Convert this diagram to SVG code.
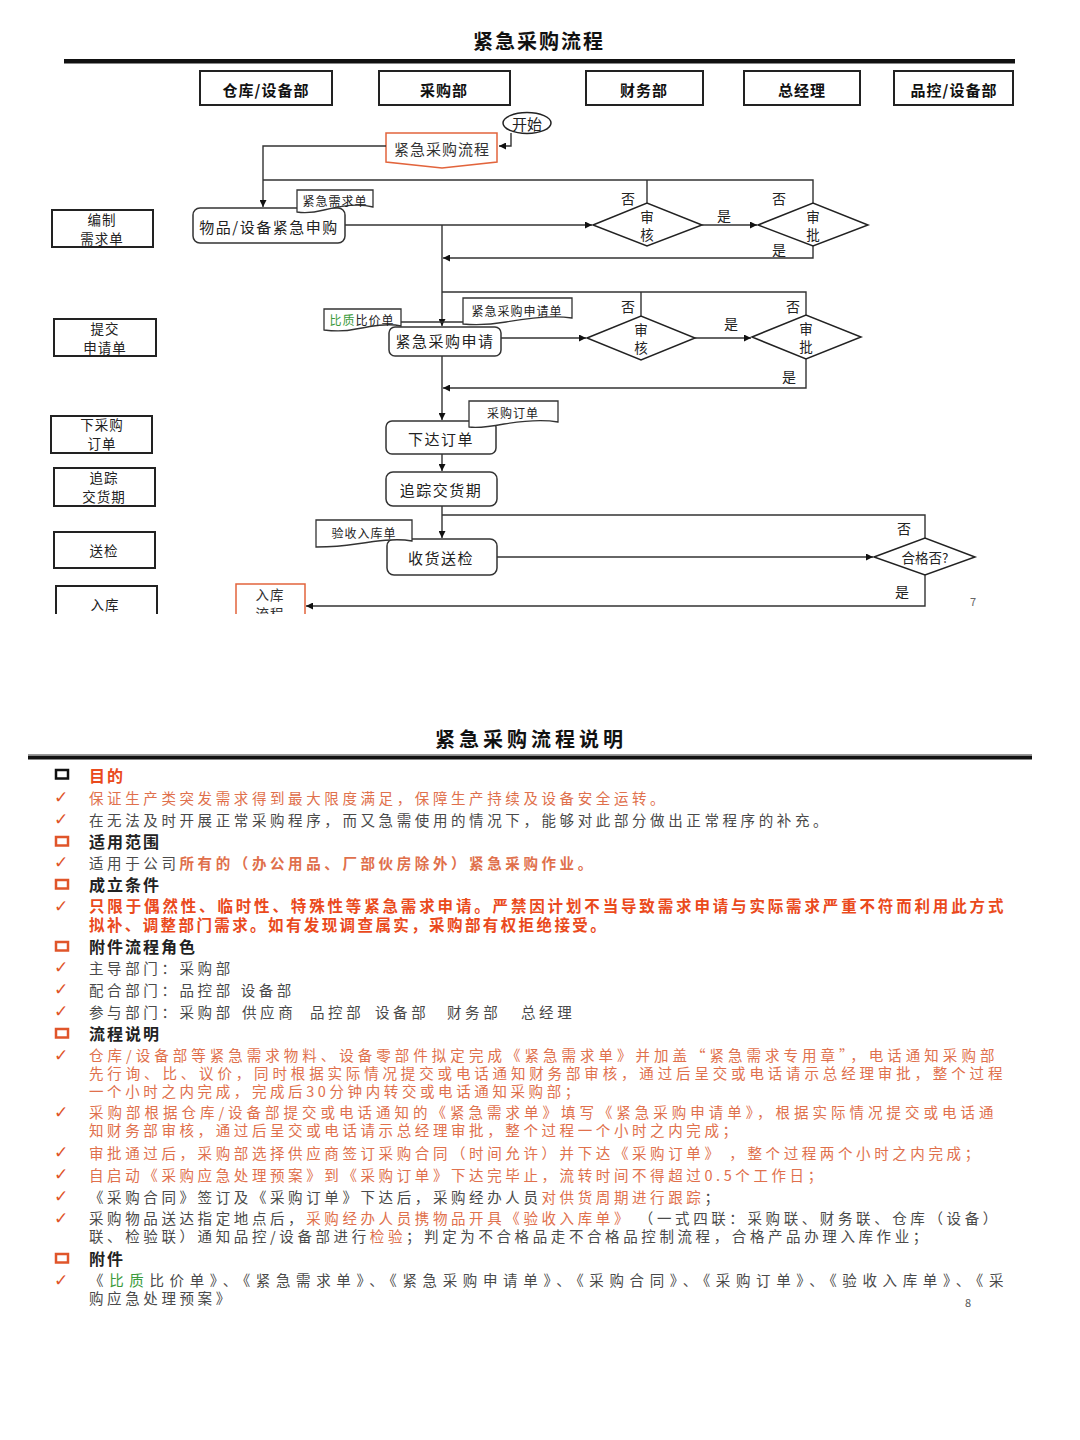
<svg xmlns="http://www.w3.org/2000/svg" width="1080" height="1440" viewBox="0 0 1080 1440">
<defs>
<marker id="ar" viewBox="0 0 10 10" refX="10" refY="5" markerWidth="7" markerHeight="7" markerUnits="userSpaceOnUse" orient="auto"><path d="M0,0 L10,5 L0,10 Z" fill="#111"/></marker>
<clipPath id="slide1"><rect x="0" y="0" width="1080" height="614"/></clipPath>
</defs>
<style>
text{font-family:"Noto Sans CJK SC","Noto Sans",sans-serif;dominant-baseline:central}
.title{font-size:20px;font-weight:bold;fill:#111;letter-spacing:2px}
.hdr rect{fill:#fff;stroke:#222;stroke-width:2}
.hdr text{font-size:15px;font-weight:bold;fill:#111;text-anchor:middle;letter-spacing:1px}
.lbox rect{fill:#fff;stroke:#222;stroke-width:2}
.lbox text{font-size:13.5px;fill:#222;text-anchor:middle;letter-spacing:1px}
.proc rect{fill:#fff;stroke:#333;stroke-width:1.5}
.proc text{font-size:15px;fill:#222;text-anchor:middle;letter-spacing:1.5px}
.doc path{fill:#fff;stroke:#333;stroke-width:1.3}
.doc text{font-size:12px;fill:#222;text-anchor:middle;letter-spacing:1px}
.dia polygon{fill:#fff;stroke:#222;stroke-width:1.5}
.dia text{font-size:13.5px;fill:#222;text-anchor:middle}
.off path{fill:#fff;stroke:#e2643c;stroke-width:1.5}
.off text{font-size:15px;fill:#333;text-anchor:middle;letter-spacing:1px}
.lab{font-size:14px;fill:#222;text-anchor:middle}
#connectors path{fill:none;stroke:#333;stroke-width:1.4}
.b{font-size:14.5px;letter-spacing:3.6px;fill:#4a4a4a}
.o{fill:#e0704c}
.r{fill:#ea4a1c;font-weight:bold}
.g{fill:#3a9a3a}
.h{font-size:16px;font-weight:bold;fill:#222;letter-spacing:2px}
.ck{font-family:"DejaVu Sans",sans-serif;font-size:17px;font-weight:bold;fill:#e0552a}
.sq{fill:none;stroke:#e0552a;stroke-width:2.5}
</style>
<rect width="1080" height="1440" fill="#fff"/>

<!-- Slide 1 -->
<text class="title" x="539" y="40" text-anchor="middle">紧急采购流程</text>
<rect x="64" y="59" width="951" height="4.5" fill="#111"/>

<g id="hdr-warehouse" class="hdr"><rect x="200" y="71" width="132" height="34"/><text x="266" y="89">仓库/设备部</text></g>
<g id="hdr-purchase" class="hdr"><rect x="379" y="71" width="131" height="34"/><text x="444" y="89">采购部</text></g>
<g id="hdr-finance" class="hdr"><rect x="586" y="71" width="117" height="34"/><text x="644" y="89">财务部</text></g>
<g id="hdr-gm" class="hdr"><rect x="744" y="71" width="116" height="34"/><text x="802" y="89">总经理</text></g>
<g id="hdr-qc" class="hdr"><rect x="894" y="71" width="119" height="34"/><text x="954" y="89">品控/设备部</text></g>

<g id="l-compile" class="lbox"><rect x="52" y="210" width="101" height="37"/><text x="102" y="219">编制</text><text x="102" y="238">需求单</text></g>
<g id="l-submit" class="lbox"><rect x="54" y="319" width="102" height="37" stroke-width="2.5"/><text x="105" y="328">提交</text><text x="105" y="347">申请单</text></g>
<g id="l-order" class="lbox"><rect x="51" y="416" width="101" height="37"/><text x="102" y="424">下采购</text><text x="102" y="443">订单</text></g>
<g id="l-track" class="lbox"><rect x="54" y="468" width="101" height="38"/><text x="104" y="477">追踪</text><text x="104" y="496">交货期</text></g>
<g id="l-inspect" class="lbox"><rect x="54" y="532" width="101" height="36"/><text x="104" y="550">送检</text></g>
<g id="l-store" class="lbox" clip-path="url(#slide1)"><rect x="56" y="586" width="101" height="40"/><text x="105" y="604">入库</text></g>

<g id="start"><ellipse cx="527" cy="123" rx="24" ry="10.5" fill="#fff" stroke="#222" stroke-width="1.5"/><text x="527" y="123" font-size="15" text-anchor="middle" fill="#222">开始</text></g>
<g id="n-flow" class="off"><path d="M386,133 H497 V162 L442,168 L386,162 Z"/><text x="442" y="148">紧急采购流程</text></g>

<g id="n-request" class="proc"><rect x="193" y="208" width="152" height="35" rx="7"/><text x="269" y="226">物品/设备紧急申购</text></g>
<g id="d-demand" class="doc"><path d="M297,190 H373 V207 C358,203 340,206 324,210 C312,213 304,213 297,212 Z"/><text x="335" y="200">紧急需求单</text></g>
<g id="dia-review1" class="dia"><polygon points="593,225 647,203 702,225 647,246"/><text x="647" y="216">审</text><text x="647" y="234">核</text></g>
<g id="dia-approve1" class="dia"><polygon points="758,225 813,203 868,225 813,246"/><text x="813" y="216">审</text><text x="813" y="234">批</text></g>

<g id="n-apply" class="proc"><rect x="389" y="327" width="112" height="29" rx="6"/><text x="445" y="340">紧急采购申请</text></g>
<g id="d-compare" class="doc"><path d="M324,309 H401 V326 C388,323 372,326 356,329 C343,332 332,331 324,330 Z"/><text x="362" y="319"><tspan class="g">比质</tspan>比价单</text></g>
<g id="d-applyform" class="doc"><path d="M463,298 H572 V318 C552,315 528,318 506,322 C488,325 474,325 463,324 Z"/><text x="517" y="310">紧急采购申请单</text></g>
<g id="dia-review2" class="dia"><polygon points="587,338 641,316 695,338 641,360"/><text x="641" y="329">审</text><text x="641" y="347">核</text></g>
<g id="dia-approve2" class="dia"><polygon points="752,337 806,315 861,337 806,359"/><text x="806" y="328">审</text><text x="806" y="346">批</text></g>

<g id="n-issue" class="proc"><rect x="386" y="421" width="110" height="33" rx="6"/><text x="441" y="438">下达订单</text></g>
<g id="d-po" class="doc"><path d="M469,401 H558 V422 C542,419 522,421 504,424 C488,427 477,428 469,427 Z"/><text x="513" y="412">采购订单</text></g>
<g id="n-track" class="proc"><rect x="386" y="472" width="111" height="34" rx="7"/><text x="441" y="489">追踪交货期</text></g>
<g id="n-receive" class="proc"><rect x="387" y="539" width="110" height="36" rx="7"/><text x="441" y="557">收货送检</text></g>
<g id="d-receipt" class="doc"><path d="M316,520 H412 V541 C396,538 376,541 356,544 C338,547 325,547 316,547 Z"/><text x="364" y="532">验收入库单</text></g>
<g id="dia-qualified" class="dia"><polygon points="874,557 925,538 975,557 925,575"/><text x="925" y="557">合格否?</text></g>
<g id="n-storeflow" class="off" clip-path="url(#slide1)"><path d="M236,584 H305 V630 H236 Z"/><text x="270" y="594" style="font-size:13.5px">入库</text><text x="270" y="613" style="font-size:13.5px">流程</text></g>

<g id="connectors">
<path d="M511,133 V146 H499" marker-end="url(#ar)"/>
<path d="M386,146 H263 V207" marker-end="url(#ar)"/>
<path d="M345,225 H592" marker-end="url(#ar)"/>
<path d="M702,225 H757" marker-end="url(#ar)"/>
<path d="M647,203 V180"/>
<path d="M813,203 V180 H263"/>
<path d="M813,246 V258 H443" marker-end="url(#ar)"/>
<path d="M442,225 V326" marker-end="url(#ar)"/>
<path d="M401,322 H463"/>
<path d="M501,338 H586" marker-end="url(#ar)"/>
<path d="M695,338 H751" marker-end="url(#ar)"/>
<path d="M641,316 V292"/>
<path d="M806,315 V292 H442"/>
<path d="M806,359 V388 H443" marker-end="url(#ar)"/>
<path d="M442,356 V420" marker-end="url(#ar)"/>
<path d="M442,454 V471" marker-end="url(#ar)"/>
<path d="M442,506 V538" marker-end="url(#ar)"/>
<path d="M497,557 H873" marker-end="url(#ar)"/>
<path d="M925,538 V515 H442"/>
<path d="M925,575 V606 H306" marker-end="url(#ar)"/>
</g>

<text class="lab" x="628" y="198">否</text>
<text class="lab" x="724" y="215">是</text>
<text class="lab" x="779" y="198">否</text>
<text class="lab" x="779" y="249">是</text>
<text class="lab" x="628" y="306">否</text>
<text class="lab" x="731" y="323">是</text>
<text class="lab" x="793" y="306">否</text>
<text class="lab" x="789" y="376">是</text>
<text class="lab" x="904" y="528">否</text>
<text class="lab" x="902" y="591">是</text>
<text x="973" y="601" font-family="Liberation Serif,serif" font-size="11" fill="#666" text-anchor="middle">7</text>

<!-- Slide 2 -->
<text class="title" x="531" y="738" text-anchor="middle" style="letter-spacing:4px">紧急采购流程说明</text>
<rect x="28" y="754" width="1004" height="1" fill="#999"/>
<rect x="28" y="755.5" width="1004" height="4" fill="#111"/>

<rect x="56" y="770" width="12" height="8.5" fill="none" stroke="#111" stroke-width="2.5"/>
<text class="h" x="89" y="775" style="fill:#ea4a1c">目的</text>
<text class="ck" x="54" y="797">✓</text>
<text class="b o" x="89" y="797">保证生产类突发需求得到最大限度满足，保障生产持续及设备安全运转。</text>
<text class="ck" x="54" y="819">✓</text>
<text class="b" x="89" y="819">在无法及时开展正常采购程序，而又急需使用的情况下，能够对此部分做出正常程序的补充。</text>

<rect class="sq" x="56" y="837" width="12" height="8.5"/>
<text class="h" x="89" y="841">适用范围</text>
<text class="ck" x="54" y="862">✓</text>
<text class="b" x="89" y="862">适用于公司<tspan class="o" font-weight="bold">所有的（办公用品、厂部伙房除外）紧急采购作业。</tspan></text>

<rect class="sq" x="56" y="880" width="12" height="8.5"/>
<text class="h" x="89" y="884">成立条件</text>
<text class="ck" x="54" y="906">✓</text>
<text class="b r" x="89" y="905" style="font-size:15.5px" textLength="918" lengthAdjust="spacing">只限于偶然性、临时性、特殊性等紧急需求申请。严禁因计划不当导致需求申请与实际需求严重不符而利用此方式</text>
<text class="b r" x="89" y="924" style="font-size:15.5px;letter-spacing:2.4px">拟补、调整部门需求。如有发现调查属实，采购部有权拒绝接受。</text>

<rect class="sq" x="56" y="942" width="12" height="8.5"/>
<text class="h" x="89" y="946">附件流程角色</text>
<text class="ck" x="54" y="967">✓</text>
<text class="b" x="89" y="967">主导部门：采购部</text>
<text class="ck" x="54" y="989">✓</text>
<text class="b" x="89" y="989">配合部门：品控部 设备部</text>
<text class="ck" x="54" y="1011">✓</text>
<text class="b" x="89" y="1011">参与部门：采购部<tspan x="242">供应商</tspan><tspan x="310">品控部</tspan><tspan x="375">设备部</tspan><tspan x="447">财务部</tspan><tspan x="521">总经理</tspan></text>

<rect class="sq" x="56" y="1029" width="12" height="8.5"/>
<text class="h" x="89" y="1033">流程说明</text>
<text class="ck" x="54" y="1055">✓</text>
<text class="b o" x="89" y="1054" textLength="909" lengthAdjust="spacing">仓库/设备部等紧急需求物料、设备零部件拟定完成《紧急需求单》并加盖“紧急需求专用章”，电话通知采购部</text>
<text class="b o" x="89" y="1072" textLength="917" lengthAdjust="spacing">先行询、比、议价，同时根据实际情况提交或电话通知财务部审核，通过后呈交或电话请示总经理审批，整个过程</text>
<text class="b o" x="89" y="1090">一个小时之内完成，完成后30分钟内转交或电话通知采购部；</text>
<text class="ck" x="54" y="1112">✓</text>
<text class="b o" x="89" y="1111" textLength="908" lengthAdjust="spacing">采购部根据仓库/设备部提交或电话通知的《紧急需求单》填写《紧急采购申请单》，根据实际情况提交或电话通</text>
<text class="b o" x="89" y="1129">知财务部审核，通过后呈交或电话请示总经理审批，整个过程一个小时之内完成；</text>
<text class="ck" x="54" y="1152">✓</text>
<text class="b o" x="89" y="1152" xml:space="preserve">审批通过后，采购部选择供应商签订采购合同（时间允许）并下达《采购订单》 ，整个过程两个小时之内完成；</text>
<text class="ck" x="54" y="1174">✓</text>
<text class="b o" x="89" y="1174">自启动《采购应急处理预案》到《采购订单》下达完毕止，流转时间不得超过0.5个工作日；</text>
<text class="ck" x="54" y="1196">✓</text>
<text class="b" x="89" y="1196">《采购合同》签订及《采购订单》下达后，采购经办人员<tspan class="o">对供货周期进行跟踪</tspan>；</text>
<text class="ck" x="54" y="1218">✓</text>
<text class="b" x="89" y="1217" xml:space="preserve">采购物品送达指定地点后，<tspan class="o">采购经办人员携物品开具《验收入库单》</tspan> （一式四联：采购联、财务联、仓库（设备）</text>
<text class="b" x="89" y="1235">联、检验联）通知品控/设备部进行<tspan class="o">检验</tspan>；判定为不合格品走不合格品控制流程，合格产品办理入库作业；</text>

<rect class="sq" x="56" y="1254" width="12" height="8.5"/>
<text class="h" x="89" y="1258">附件</text>
<text class="ck" x="54" y="1280">✓</text>
<text class="b" x="89" y="1279" textLength="918" lengthAdjust="spacing">《<tspan class="g">比质</tspan>比价单》、《紧急需求单》、《紧急采购申请单》、《采购合同》、《采购订单》、《验收入库单》、《采</text>
<text class="b" x="89" y="1297">购应急处理预案》</text>
<text x="968" y="1302" font-family="Liberation Sans,sans-serif" font-size="11" fill="#555" text-anchor="middle">8</text>
</svg>
